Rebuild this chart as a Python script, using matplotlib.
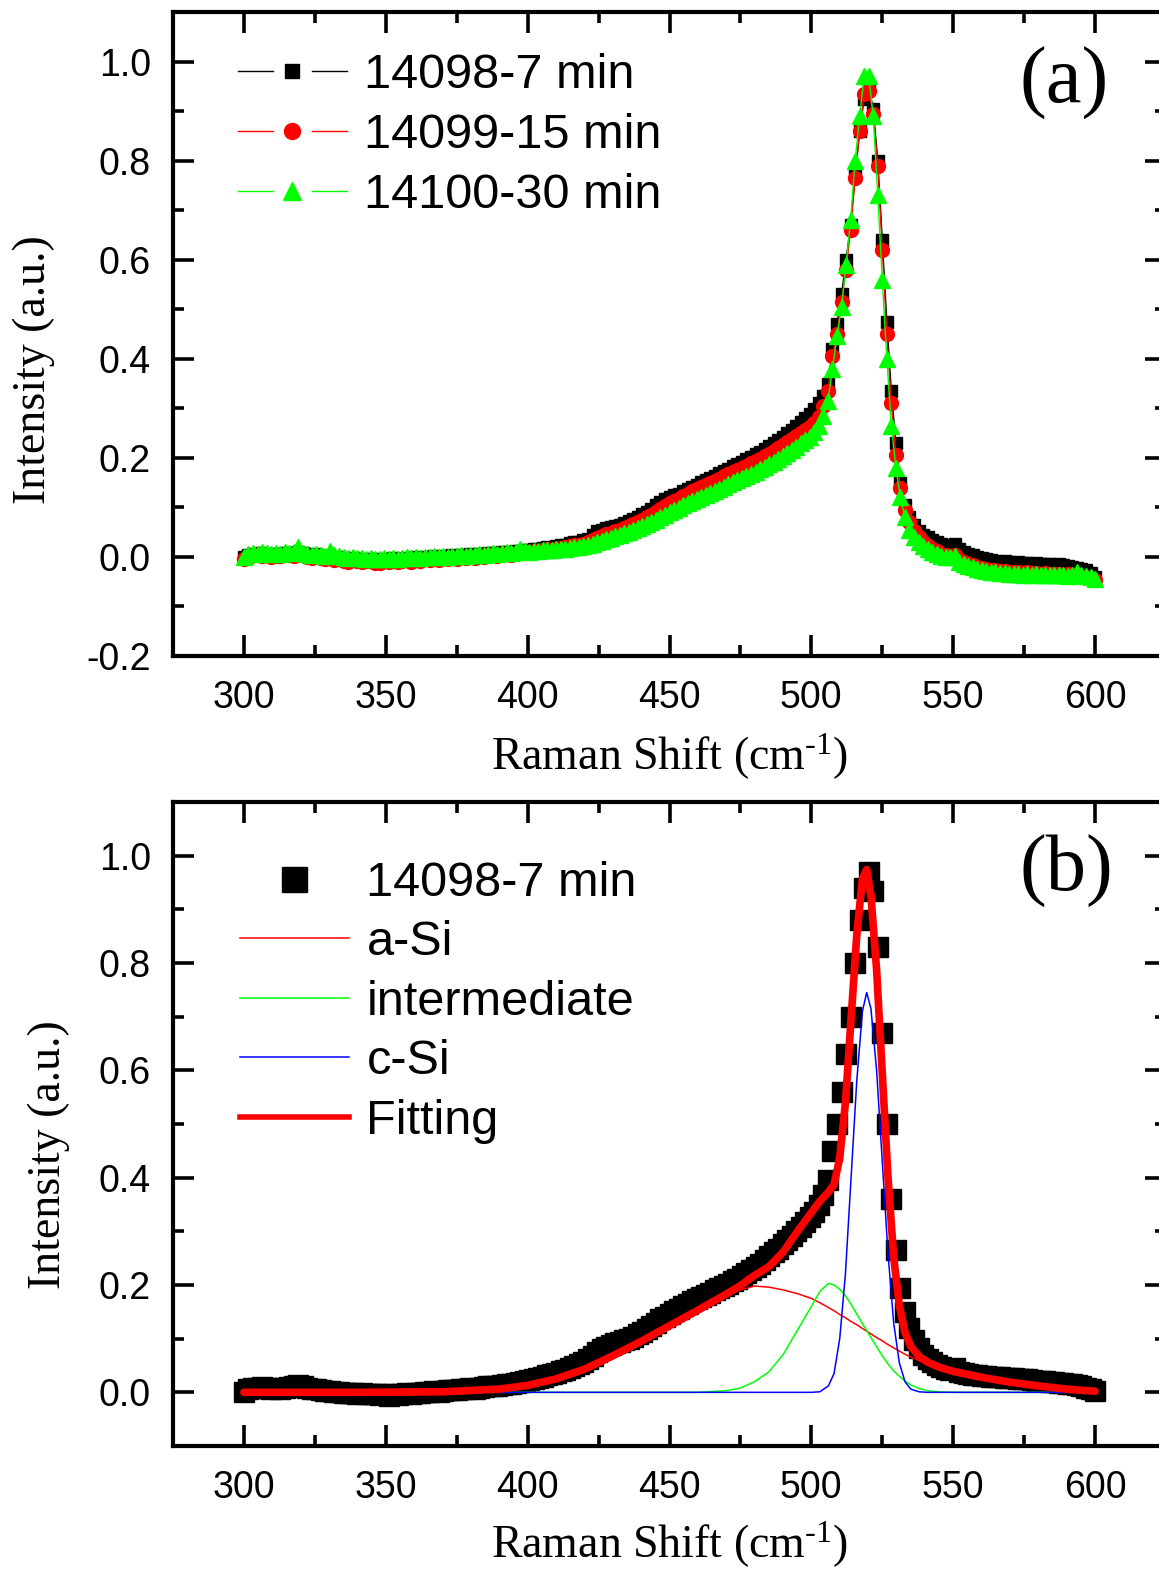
import matplotlib
matplotlib.use('Agg')
import matplotlib.pyplot as plt
import numpy as np
from matplotlib.lines import Line2D
from matplotlib.legend_handler import HandlerBase
from matplotlib.ticker import MultipleLocator

plt.rcParams['font.family'] = 'Liberation Sans'
plt.rcParams['axes.unicode_minus'] = False
plt.rcParams['mathtext.fontset'] = 'custom'
plt.rcParams['mathtext.rm'] = 'Liberation Serif'
plt.rcParams['mathtext.it'] = 'Liberation Serif:italic'

# spectrometer axis, 189 channels from 300 to 600 cm-1
shift = np.linspace(300, 600, 189)

# (a) normalised spectra
blk_a = [0.000, 0.004, 0.006, 0.005, 0.007, 0.006, 0.004, 0.006, 0.005, 0.007,
         0.008, 0.006, 0.010, 0.007, 0.004, 0.003, 0.005, 0.002, 0.001, 0.000,
         -0.002, -0.001, -0.003, -0.004, -0.003, -0.005, -0.004, -0.006, -0.004, -0.005,
         -0.006, -0.004, -0.005, -0.003, -0.005, -0.004, -0.002, -0.003, -0.001, -0.002,
         0.000, -0.001, 0.001, 0.000, 0.002, 0.001, 0.003, 0.002, 0.004, 0.003,
         0.005, 0.004, 0.006, 0.005, 0.007, 0.008, 0.006, 0.009, 0.010, 0.008,
         0.011, 0.012, 0.014, 0.013, 0.016, 0.015, 0.018, 0.020, 0.019, 0.022,
         0.024, 0.025, 0.028, 0.030, 0.031, 0.034, 0.037, 0.045, 0.052, 0.055,
         0.058, 0.060, 0.063, 0.065, 0.068, 0.072, 0.076, 0.080, 0.086, 0.090,
         0.097, 0.104, 0.110, 0.116, 0.120, 0.124, 0.128, 0.133, 0.138, 0.142,
         0.146, 0.151, 0.156, 0.160, 0.164, 0.169, 0.173, 0.178, 0.183, 0.188,
         0.192, 0.197, 0.202, 0.207, 0.212, 0.218, 0.224, 0.230, 0.236, 0.243,
         0.250, 0.257, 0.265, 0.272, 0.280, 0.289, 0.298, 0.310, 0.325, 0.350,
         0.420, 0.470, 0.530, 0.600, 0.670, 0.770, 0.860, 0.925, 0.950, 0.905,
         0.800, 0.640, 0.475, 0.335, 0.230, 0.150, 0.105, 0.080, 0.065, 0.052,
         0.045, 0.040, 0.035, 0.030, 0.027, 0.024, 0.022, 0.026, 0.015, 0.010,
         0.006, 0.003, 0.000, -0.003, -0.005, -0.007, -0.008, -0.010, -0.009, -0.011,
         -0.012, -0.011, -0.013, -0.012, -0.014, -0.013, -0.014, -0.015, -0.014, -0.016,
         -0.015, -0.017, -0.018, -0.020, -0.022, -0.024, -0.027, -0.032, -0.040]

red_a = [-0.004, -0.002, 0.003, 0.004, 0.002, 0.003, -0.001, 0.002, 0.001, 0.003,
         0.004, 0.002, 0.006, 0.003, 0.000, -0.002, 0.001, -0.003, -0.004, -0.003,
         -0.006, -0.005, -0.008, -0.010, -0.007, -0.009, -0.011, -0.008, -0.009, -0.012,
         -0.013, -0.009, -0.010, -0.008, -0.011, -0.009, -0.006, -0.010, -0.007, -0.008,
         -0.005, -0.007, -0.004, -0.006, -0.003, -0.005, -0.002, -0.004, -0.001, -0.003,
         0.000, -0.002, 0.002, 0.000, 0.003, 0.004, 0.001, 0.005, 0.006, 0.004,
         0.007, 0.008, 0.010, 0.009, 0.011, 0.010, 0.013, 0.015, 0.014, 0.017,
         0.019, 0.020, 0.022, 0.024, 0.025, 0.027, 0.030, 0.034, 0.038, 0.042,
         0.046, 0.049, 0.052, 0.055, 0.058, 0.062, 0.066, 0.070, 0.075, 0.080,
         0.085, 0.091, 0.097, 0.103, 0.108, 0.113, 0.117, 0.122, 0.127, 0.133,
         0.137, 0.141, 0.146, 0.150, 0.154, 0.158, 0.163, 0.167, 0.172, 0.176,
         0.180, 0.184, 0.189, 0.193, 0.198, 0.203, 0.208, 0.214, 0.220, 0.226,
         0.232, 0.238, 0.244, 0.250, 0.256, 0.263, 0.270, 0.283, 0.305, 0.335,
         0.405, 0.450, 0.515, 0.580, 0.660, 0.765, 0.860, 0.935, 0.940, 0.895,
         0.790, 0.620, 0.450, 0.310, 0.205, 0.140, 0.095, 0.070, 0.052, 0.040,
         0.030, 0.022, 0.016, 0.011, 0.006, 0.003, 0.000, 0.004, -0.006, -0.010,
         -0.014, -0.017, -0.020, -0.022, -0.024, -0.026, -0.027, -0.029, -0.028, -0.030,
         -0.031, -0.030, -0.032, -0.031, -0.033, -0.032, -0.034, -0.033, -0.035, -0.034,
         -0.035, -0.036, -0.035, -0.037, -0.038, -0.040, -0.041, -0.043, -0.046]

grn_a = [0.000, 0.006, 0.008, 0.006, 0.009, 0.007, 0.005, 0.008, 0.006, 0.009,
         0.007, 0.010, 0.020, 0.008, 0.005, 0.004, 0.006, 0.003, 0.002, 0.012,
         0.004, 0.001, -0.001, -0.002, -0.001, -0.003, -0.002, -0.004, -0.003, -0.004,
         -0.005, -0.003, -0.004, -0.002, -0.004, -0.003, -0.001, -0.002, -0.001, -0.002,
         -0.001, 0.000, 0.001, -0.001, 0.001, 0.000, 0.002, 0.001, 0.003, 0.002,
         0.004, 0.003, 0.005, 0.004, 0.006, 0.007, 0.005, 0.008, 0.009, 0.007,
         0.010, 0.016, 0.011, 0.010, 0.012, 0.011, 0.013, 0.014, 0.013, 0.015,
         0.016, 0.017, 0.018, 0.020, 0.021, 0.023, 0.025, 0.027, 0.030, 0.033,
         0.036, 0.039, 0.042, 0.045, 0.048, 0.051, 0.055, 0.059, 0.063, 0.067,
         0.071, 0.075, 0.080, 0.085, 0.090, 0.095, 0.099, 0.104, 0.108, 0.113,
         0.117, 0.121, 0.125, 0.130, 0.134, 0.138, 0.142, 0.147, 0.151, 0.155,
         0.159, 0.163, 0.168, 0.172, 0.177, 0.182, 0.187, 0.192, 0.198, 0.204,
         0.210, 0.216, 0.222, 0.229, 0.236, 0.243, 0.252, 0.265, 0.285, 0.315,
         0.380, 0.445, 0.505, 0.590, 0.680, 0.800, 0.890, 0.970, 0.970, 0.890,
         0.730, 0.560, 0.400, 0.265, 0.180, 0.120, 0.080, 0.055, 0.040, 0.030,
         0.022, 0.015, 0.010, 0.006, 0.002, -0.001, 0.000, 0.002, -0.010, -0.014,
         -0.018, -0.021, -0.024, -0.026, -0.028, -0.030, -0.031, -0.032, -0.033, -0.034,
         -0.035, -0.034, -0.036, -0.035, -0.036, -0.035, -0.037, -0.036, -0.037, -0.036,
         -0.037, -0.036, -0.038, -0.037, -0.030, -0.036, -0.039, -0.040, -0.045]

# (b) baseline corrected 14098 spectrum
blk_b = [0.000, 0.006, 0.009, 0.008, 0.010, 0.009, 0.007, 0.008, 0.006, 0.009,
         0.010, 0.012, 0.014, 0.011, 0.008, 0.006, 0.007, 0.004, 0.003, 0.002,
         0.000, 0.001, -0.001, -0.002, -0.001, -0.003, -0.002, -0.004, -0.003, -0.004,
         -0.005, -0.004, -0.006, -0.004, -0.005, -0.003, -0.002, -0.003, -0.001, -0.002,
         0.000, 0.001, 0.002, 0.001, 0.003, 0.004, 0.005, 0.004, 0.006, 0.007,
         0.008, 0.007, 0.009, 0.010, 0.011, 0.012, 0.011, 0.014, 0.015, 0.016,
         0.018, 0.020, 0.022, 0.023, 0.025, 0.027, 0.029, 0.032, 0.034, 0.036,
         0.039, 0.042, 0.045, 0.049, 0.052, 0.057, 0.062, 0.068, 0.075, 0.080,
         0.084, 0.088, 0.091, 0.094, 0.097, 0.100, 0.104, 0.108, 0.113, 0.118,
         0.124, 0.130, 0.136, 0.141, 0.146, 0.151, 0.156, 0.161, 0.165, 0.170,
         0.174, 0.178, 0.182, 0.186, 0.190, 0.194, 0.198, 0.202, 0.207, 0.212,
         0.217, 0.222, 0.228, 0.234, 0.240, 0.247, 0.254, 0.261, 0.268, 0.276,
         0.284, 0.292, 0.300, 0.309, 0.318, 0.327, 0.336, 0.350, 0.368, 0.395,
         0.450, 0.500, 0.560, 0.630, 0.700, 0.800, 0.880, 0.940, 0.970, 0.935,
         0.830, 0.670, 0.500, 0.360, 0.265, 0.195, 0.150, 0.120, 0.098, 0.082,
         0.070, 0.062, 0.056, 0.051, 0.047, 0.044, 0.041, 0.046, 0.038, 0.036,
         0.034, 0.033, 0.032, 0.031, 0.030, 0.029, 0.029, 0.028, 0.027, 0.026,
         0.026, 0.025, 0.024, 0.025, 0.023, 0.022, 0.021, 0.022, 0.020, 0.019,
         0.018, 0.017, 0.016, 0.015, 0.013, 0.011, 0.009, 0.006, 0.002]

# fitted components on their own grid
comp_x = [300, 340, 370, 390, 400, 410, 420, 430, 440, 450, 460, 470, 475, 480,
          485, 490, 495, 500, 503, 506, 508, 510, 512, 514, 516, 518, 519.5, 521,
          523, 525, 527, 529, 531, 533, 535, 538, 541, 545, 550, 560, 570, 580,
          590, 600]
a_si = [0.000, 0.000, 0.001, 0.006, 0.013, 0.025, 0.043, 0.068, 0.095, 0.124,
        0.153, 0.180, 0.191, 0.198, 0.196, 0.191, 0.184, 0.175, 0.167, 0.158,
        0.152, 0.145, 0.139, 0.132, 0.126, 0.119, 0.114, 0.109, 0.102, 0.096,
        0.089, 0.083, 0.077, 0.071, 0.066, 0.059, 0.053, 0.046, 0.039, 0.028,
        0.019, 0.012, 0.006, 0.002]
inter = [0.000, 0.000, 0.000, 0.000, 0.000, 0.000, 0.000, 0.000, 0.000, 0.000,
         0.000, 0.003, 0.008, 0.020, 0.038, 0.070, 0.115, 0.160, 0.188, 0.203,
         0.200, 0.192, 0.180, 0.164, 0.146, 0.128, 0.115, 0.102, 0.085, 0.068,
         0.053, 0.040, 0.030, 0.021, 0.014, 0.007, 0.003, 0.001, 0.000, 0.000,
         0.000, 0.000, 0.000, 0.000]
c_si = [0.000, 0.000, 0.000, 0.000, 0.000, 0.000, 0.000, 0.000, 0.000, 0.000,
        0.000, 0.000, 0.000, 0.000, 0.000, 0.000, 0.000, 0.000, 0.001, 0.012,
        0.035, 0.100, 0.220, 0.400, 0.580, 0.710, 0.745, 0.715, 0.600, 0.430,
        0.260, 0.130, 0.055, 0.020, 0.006, 0.001, 0.000, 0.000, 0.000, 0.000,
        0.000, 0.000, 0.000, 0.000]
fit = [0.000, 0.000, 0.001, 0.006, 0.013, 0.025, 0.043, 0.068, 0.095, 0.124,
       0.153, 0.183, 0.199, 0.218, 0.234, 0.261, 0.299, 0.335, 0.356, 0.373,
       0.387, 0.437, 0.539, 0.696, 0.852, 0.957, 0.974, 0.926, 0.787, 0.594,
       0.402, 0.253, 0.162, 0.112, 0.086, 0.067, 0.056, 0.047, 0.039, 0.028,
       0.019, 0.012, 0.006, 0.002]

x_ticks = [300, 350, 400, 450, 500, 550, 600]
y_ticks_a = [-0.2, 0.0, 0.2, 0.4, 0.6, 0.8, 1.0]
y_ticks_b = [0.0, 0.2, 0.4, 0.6, 0.8, 1.0]

SERIF = 'Liberation Serif'


class SplitLine(HandlerBase):
    # line - marker - line, with a gap either side of the marker
    def create_artists(self, legend, orig, xd, yd, width, height, fontsize, trans):
        y = height / 2 - yd
        x0, x1 = -xd, width - xd
        xm = (x0 + x1) / 2
        gap = 0.18 * width
        kw = dict(color=orig.get_color(), lw=orig.get_linewidth(), transform=trans)
        left = Line2D([x0, xm - gap], [y, y], **kw)
        right = Line2D([xm + gap, x1], [y, y], **kw)
        mk = Line2D([xm], [y], ls='none', marker=orig.get_marker(),
                    ms=orig.get_markersize() * 1.15, color=orig.get_color(), transform=trans)
        return [left, right, mk]


def style_axes(ax, yticks, ylim):
    ax.set_xlim(275, 625)
    ax.set_ylim(*ylim)
    ax.set_xticks(x_ticks)
    ax.set_xticklabels([str(t) for t in x_ticks])
    ax.set_yticks(yticks)
    ax.set_yticklabels(['%.1f' % t for t in yticks])
    ax.xaxis.set_minor_locator(MultipleLocator(25))
    ax.yaxis.set_minor_locator(MultipleLocator(0.1))
    ax.tick_params(which='both', direction='in', top=True, right=True, width=2.6)
    ax.tick_params(which='major', length=15, labelsize=27, pad=17)
    ax.tick_params(which='minor', length=8)
    ax.tick_params(axis='y', which='major', pad=16)
    for s in ax.spines.values():
        s.set_linewidth(3.0)
    ax.set_xlabel(r'Raman Shift (cm$^{\text{-1}}$)', fontsize=33, family=SERIF)
    ax.set_ylabel('Intensity (a.u.)', fontsize=33, family=SERIF)


fig = plt.figure(figsize=(11.59, 15.70), dpi=100)
W, H = 1159, 1570
ax1 = fig.add_axes([173 / W, 1 - 656 / H, 993 / W, 644 / H])
ax2 = fig.add_axes([173 / W, 1 - 1446 / H, 993 / W, 644 / H])

# --- (a)
ax1.plot(shift, blk_a, color='k', lw=1, marker='s', ms=9, label='14098-7 min')
ax1.plot(shift, red_a, color='#ff0000', lw=1, marker='o', ms=10, label='14099-15 min')
ax1.plot(shift, grn_a, color='#00ff00', lw=1, marker='^', ms=11, label='14100-30 min')
style_axes(ax1, y_ticks_a, (-0.2, 1.1))
ax1.xaxis.set_label_coords(0.5, -0.118)
ax1.yaxis.set_label_coords(-0.119, 0.444)
ax1.text(589, 0.955, '(a)', fontsize=58, family=SERIF, ha='center', va='center')
leg1 = ax1.legend(loc='upper left', bbox_to_anchor=(0.065, 0.937), frameon=False,
                  fontsize=35, handlelength=2.26, handletextpad=0.35,
                  labelspacing=0.31, borderpad=0, borderaxespad=0,
                  handler_map={Line2D: SplitLine()})

# --- (b)
ax2.plot(shift, blk_b, color='k', ls='none', marker='s', ms=14)
ax2.plot(comp_x, a_si, color='#ff0000', lw=1.1)
ax2.plot(comp_x, inter, color='#00ff00', lw=1.1)
ax2.plot(comp_x, c_si, color='#0000ff', lw=1.1)
ax2.plot(comp_x, fit, color='#ff0000', lw=5.5, solid_capstyle='round')
style_axes(ax2, y_ticks_b, (-0.1, 1.1))
ax2.xaxis.set_label_coords(0.5, -0.115)
ax2.yaxis.set_label_coords(-0.104, 0.452)
ax2.text(590, 0.97, '(b)', fontsize=58, family=SERIF, ha='center', va='center')
handles_b = [Line2D([], [], color='k', ls='none', marker='s', ms=18),
             Line2D([], [], color='#ff0000', lw=1.1),
             Line2D([], [], color='#00ff00', lw=1.1),
             Line2D([], [], color='#0000ff', lw=1.1),
             Line2D([], [], color='#ff0000', lw=4.0)]
labels_b = ['14098-7 min', 'a-Si', 'intermediate', 'c-Si', 'Fitting']
ax2.legend(handles_b, labels_b, loc='upper left', bbox_to_anchor=(0.067, 0.909),
           frameon=False, fontsize=35, handlelength=2.26, handletextpad=0.35,
           labelspacing=0.3, borderpad=0, borderaxespad=0)

fig.savefig('out.png', dpi=100)
